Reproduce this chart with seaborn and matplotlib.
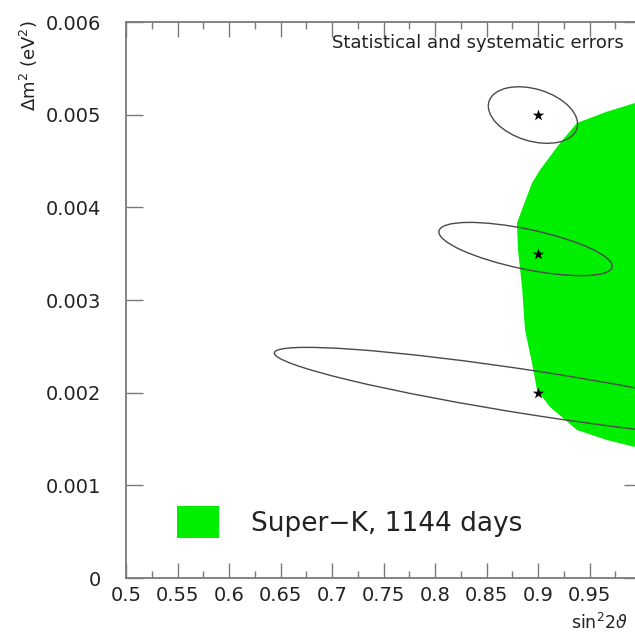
import numpy as np
import pandas as pd
import seaborn as sns
import matplotlib
matplotlib.use("Agg")
import matplotlib.pyplot as plt
from matplotlib.patches import Ellipse, Patch
from matplotlib.transforms import Affine2D

# ---- data ----
sk_x = [1.0, 0.9942, 0.9660, 0.9379, 0.9214, 0.9019, 0.8942, 0.8854, 0.8796, 0.8806,
        0.8845, 0.8874, 0.8942, 0.8990, 0.9117, 0.9379, 0.9670, 0.9942, 1.0]
sk_y = [0.005158, 0.005126, 0.005029, 0.004910, 0.004694, 0.004403, 0.004263, 0.004004,
        0.003831, 0.003540, 0.003140, 0.002676, 0.002320, 0.002029, 0.001845, 0.001597,
        0.001489, 0.001414, 0.001403]

star_x = [0.9, 0.9, 0.9]
star_y = [0.005, 0.0035, 0.002]

# contour ellipses: centre, full major/minor axis (in sin^2 units), tilt (deg)
ell_cx = [0.8951, 0.8879, 0.9000]
ell_cy = [0.004996, 0.00355, 0.00199]
ell_w = [0.0893, 0.1717, 0.518]
ell_h = [0.0505, 0.0388, 0.0427]
ell_angle = [-17.0, -11.8, -8.8]

x_ticks = [0.5, 0.55, 0.6, 0.65, 0.7, 0.75, 0.8, 0.85, 0.9, 0.95]
x_labels = ["0.5", "0.55", "0.6", "0.65", "0.7", "0.75", "0.8", "0.85", "0.9", "0.95"]
y_ticks = [0, 0.001, 0.002, 0.003, 0.004, 0.005, 0.006]
y_labels = ["0", "0.001", "0.002", "0.003", "0.004", "0.005", "0.006"]

legend_label = "Super\u2212K, 1144 days"
note_text = "Statistical and systematic errors"

# ---- style ----
sns.set_theme(style="white")
plt.rcParams['font.family'] = ['DejaVu Sans']
plt.rcParams['mathtext.fontset'] = 'dejavusans'

W, H = 635, 634
fig = plt.figure(figsize=(W / 100, H / 100), dpi=100)
ax_l, ax_r, ax_t, ax_b = 126, 641, 22, 578
ax = fig.add_axes([ax_l / W, (H - ax_b) / H, (ax_r - ax_l) / W, (ax_b - ax_t) / H])

xlim = (0.5, 1.0)
ylim = (0.0, 0.006)
ax.set_xlim(*xlim)
ax.set_ylim(*ylim)

green = '#00ee00'
ax.fill(sk_x, sk_y, color=green, lw=0, zorder=1)

# equal-pixel coordinate frame for ellipses
px_per_x = (ax_r - ax_l) / (xlim[1] - xlim[0])
px_per_y = (ax_b - ax_t) / (ylim[1] - ylim[0])
K = px_per_y / px_per_x
tr = Affine2D().scale(1, 1 / K) + ax.transData
for cx, cy, w, h, a in zip(ell_cx, ell_cy, ell_w, ell_h, ell_angle):
    e = Ellipse((cx, cy * K), w, h, angle=a, transform=tr, fill=False,
                edgecolor='#4a4a4a', lw=1.0, zorder=3)
    ax.add_patch(e)

df = pd.DataFrame({'x': star_x, 'y': star_y})
sns.scatterplot(data=df, x='x', y='y', marker='*', s=75, color='black',
                edgecolor='black', linewidth=0, ax=ax, zorder=4)

ax.set_xticks(x_ticks)
ax.set_xticklabels(x_labels)
ax.set_xticks(np.arange(0.525, 1.0, 0.05), minor=True)
ax.set_yticks(y_ticks)
ax.set_yticklabels(y_labels)

spine_c = '#7a7a7a'
for s in ax.spines.values():
    s.set_color(spine_c)
    s.set_linewidth(1.3)
    s.set_visible(True)

ax.tick_params(axis='x', which='major', direction='in', length=11, width=1.0,
               color=spine_c, top=True, bottom=True, labelsize=14, pad=6,
               labelcolor='#222222')
ax.tick_params(axis='x', which='minor', direction='in', length=5, width=1.0,
               color=spine_c, top=True, bottom=True)
ax.tick_params(axis='y', which='major', direction='in', length=12, width=1.0,
               color=spine_c, left=True, right=True, labelsize=14, pad=18,
               labelcolor='#222222')

ax.set_ylabel(r'$\Delta$m$^2$ (eV$^2$)', fontsize=13, color='#222222', loc='top')
ax.yaxis.set_label_coords(-0.167, 1.003)
ax.set_xlabel(r'sin$^2$2$\vartheta$', fontsize=12.5, color='#222222')
ax.xaxis.set_label_coords(0.864, -0.063)
ax.xaxis.label.set_ha('left')
ax.xaxis.label.set_va('top')

ax.text(0.7, 0.00577, note_text, fontsize=13, color='#222222', ha='left', va='center',
        zorder=5)

handle = Patch(facecolor=green, edgecolor='none')
leg = ax.legend([handle], [legend_label], loc='center left',
                bbox_to_anchor=(0.099, 0.1007), frameon=False, fontsize=19,
                handlelength=1.6, handleheight=1.45, handletextpad=1.2,
                borderpad=0, borderaxespad=0)
for t in leg.get_texts():
    t.set_color('#222222')

fig.savefig('out.png', dpi=100, facecolor='white')
